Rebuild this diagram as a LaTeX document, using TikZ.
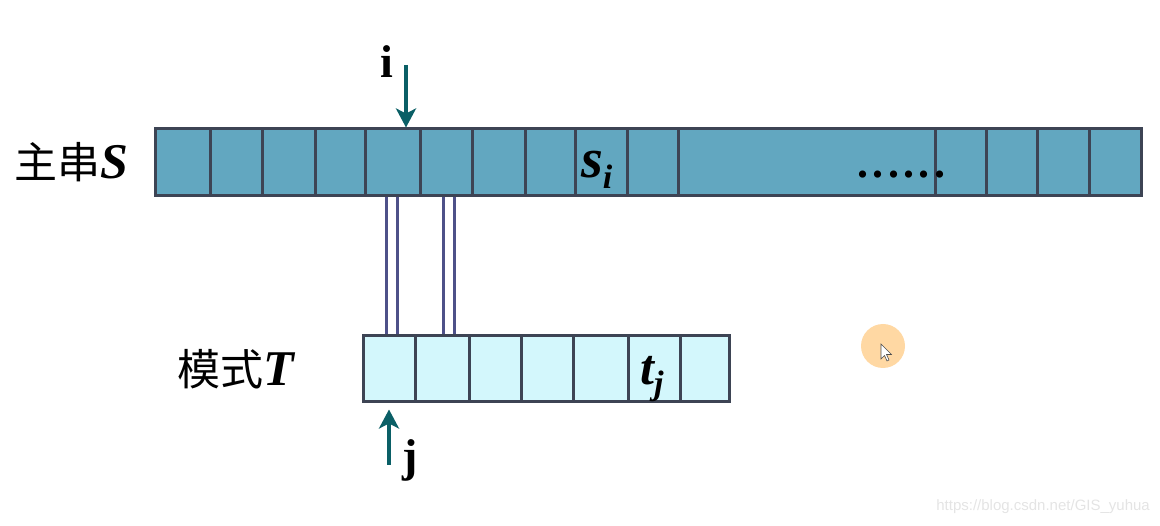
\documentclass[tikz,border=0pt]{standalone}
\usepackage{fontspec}
\setmainfont{Liberation Serif}
\newfontfamily\cjkfont{Noto Sans CJK SC}
\newfontfamily\wmfont{Liberation Sans}
\usetikzlibrary{arrows.meta, positioning}
\definecolor{mainfill}{HTML}{62A7C0}
\definecolor{patfill}{HTML}{D3F7FC}
\definecolor{cellline}{HTML}{3D4454}
\definecolor{ptrteal}{HTML}{0A5F66}
\definecolor{linkblue}{HTML}{4E5189}
\definecolor{cursorfill}{HTML}{FFD8A3}
\definecolor{wmgray}{HTML}{E4E4E4}
\tikzset{
   scell/.style={draw=cellline, fill=mainfill, line width=3pt, inner sep=0pt, minimum height=67pt},
   tcell/.style={draw=cellline, fill=patfill, line width=3pt, inner sep=0pt, minimum height=66pt},
   ptr/.style={ptrteal, line width=3.5pt, -{Stealth[length=19pt, width=20pt, inset=5pt]}},
   link/.style={linkblue, line width=3pt, double=white, double distance=8pt},
   lbl/.style={inner sep=0pt, font=\fontsize{50}{50}\selectfont\bfseries\itshape},
   idx/.style={inner sep=0pt, font=\fontsize{46}{46}\selectfont\bfseries},
   rowname/.style={inner sep=0pt, font=\fontsize{43}{43}\selectfont\cjkfont}
}
\newcommand\rowletter[1]{{\normalfont\fontsize{50}{50}\selectfont\bfseries\itshape #1}}
\newcommand\gapdot{\kern4.4pt.}

\begin{document}
\begin{tikzpicture}[x=1pt, y=-1pt]
   \useasboundingbox (0,0) rectangle (1160,526);
   % Main string S
   \foreach \a/\b [count=\k] in {155/210,210/262,262/315,315/365,365/420,420/472,472/525,525/575,
         575/627,627/678,678/935,935/986,986/1037,1037/1089,1089/1141}{
      \pgfmathsetmacro\w{\b-\a}
      \node[scell, minimum width=\w pt] (s\k) at ({(\a+\b)/2},162.5) {};
   }
   % Pattern T
   \foreach \a/\b [count=\k] in {363/415,415/469,469/521,521/573,573/628,628/680,680/729}{
      \pgfmathsetmacro\w{\b-\a}
      \node[tcell, minimum width=\w pt] (t\k) at ({(\a+\b)/2},369) {};
   }
   % Cell texts
   \node[lbl, anchor=base west, font=\fontsize{56}{56}\selectfont\bfseries\itshape] (si)
      at (581,178) {s\raisebox{-11pt}{\fontsize{34}{34}\selectfont i}};
   \node[lbl, anchor=base west, font=\fontsize{44}{44}\selectfont\bfseries] (dots)
      at (857,178) {.\gapdot\gapdot\gapdot\gapdot\gapdot};
   \node[lbl, anchor=base west] (tj) at (640,385) {t\raisebox{-10pt}{\fontsize{34}{34}\selectfont j}};
   % Row names
   \node[rowname, left=25pt of s1] (sname) {主串\rowletter{S}};
   \node[rowname, left=67pt of t1] (tname) {模式\rowletter{T}};
   % Pointers i and j
   \coordinate (itop) at (406,65);
   \node[idx] (ilbl) at (387,62) {i};
   \draw[ptr] (itop) -- (itop |- s5.north);
   \coordinate (jbot) at (389,465);
   \node[idx] (jlbl) at (410,460) {j};
   \draw[ptr, shorten >=6pt] (jbot) -- (jbot |- t1.south);
   % Matched characters
   \draw[link] ([xshift=-1pt]s5.south) -- ([xshift=-1pt]s5.south |- t1.north);
   \draw[link] ([xshift=3pt]s6.south) -- ([xshift=3pt]s6.south |- t2.north);
   % Mouse cursor
   \fill[cursorfill] (883,346) circle (22pt);
   \draw[fill=white, draw=black!70, line width=0.6pt] (881,344) -- (881,359) -- (884.5,355.5)
      -- (887,361) -- (889,360) -- (886.5,354.5) -- (891.5,354.5) -- cycle;
   % Watermark
   \node[anchor=east, inner sep=0pt, text=wmgray, font=\wmfont\fontsize{15}{15}\selectfont] (wm)
      at (1150,507) {https://blog.csdn.net/GIS\_yuhua};
\end{tikzpicture}
\end{document}
